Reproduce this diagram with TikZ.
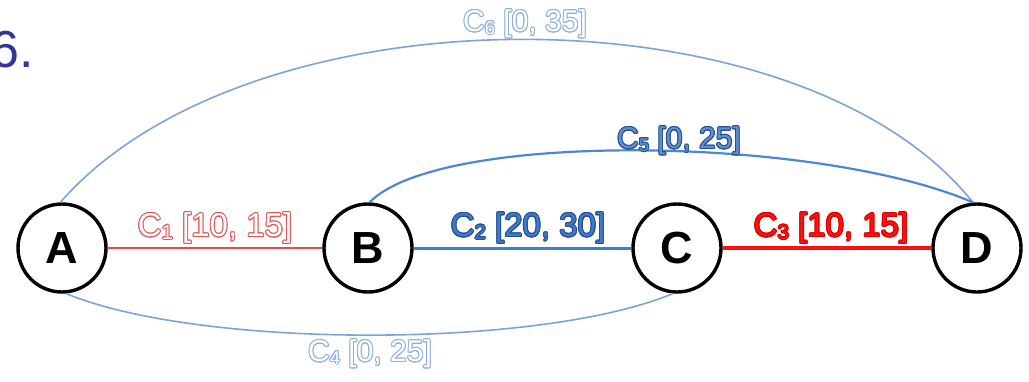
\documentclass[tikz,border=0pt]{standalone}
\usepackage{fontspec}
\setmainfont{Liberation Sans}
\usetikzlibrary{calc}

\definecolor{titleblue}{HTML}{333399}
\definecolor{redline}{HTML}{E84A4A}
\definecolor{redstrong}{HTML}{FF1010}
\definecolor{blueline}{HTML}{3B7DDD}
\definecolor{arcblue}{HTML}{7EA3DA}
\definecolor{arcmid}{HTML}{4F85D6}
\definecolor{paleoutline}{HTML}{8FB0E0}
\definecolor{darkblue}{HTML}{24508F}
\definecolor{fillblue}{HTML}{3F78CC}
\definecolor{softblue}{HTML}{5D8FD8}
\definecolor{pinkline}{HTML}{E25555}

% smaller, slightly lowered index digit
\newcommand\idx[1]{\raisebox{-0.08em}{\scalebox{0.62}{#1}}}

% text with a coloured rim: copies shifted round a circle, then the fill on top
\newcommand\rimlabel[6]{% name, position, font size, rim colour, fill colour, text
  \foreach \a in {0,30,...,330}{
    \node[lbl, text=#4, shift={(\a:0.95pt)}] at #2 {\fontsize{#3}{#3}\selectfont #6};
  }
  \node[lbl, text=#5] (#1) at #2 {\fontsize{#3}{#3}\selectfont #6};
}

\tikzset{
  lbl/.style={inner sep=0pt, anchor=center},
  vertex/.style={circle, draw=black, line width=3.4pt, minimum size=88pt, inner sep=0pt,
    font=\fontsize{45}{45}\selectfont\bfseries},
  thinred/.style={draw=redline, line width=2pt},
  midblue/.style={draw=blueline, line width=3pt},
  thickred/.style={draw=redstrong, line width=3.6pt},
  arc/.style={draw=arcblue, line width=1.6pt},
  arcstrong/.style={draw=arcmid, line width=2.2pt},
}

\begin{document}
\begin{tikzpicture}[x=1pt, y=-1pt]
  \clip (0,0) rectangle (1029,381);
  \fill[white] (0,0) rectangle (1029,381);

  % slide number
  \node[anchor=base west, inner sep=0pt, text=titleblue,
        font=\fontsize{52}{52}\selectfont] (num) at (-10,67) {6.};

  % vertices
  \node[vertex] (A) at (62,248) {A};
  \node[vertex] (B) at (368,248) {B};
  \node[vertex] (C) at (677,248) {C};
  \node[vertex] (D) at (977,248) {D};

  % straight constraints
  \draw[thinred] (A) -- (B);
  \draw[midblue] (B) -- (C);
  \draw[thickred] (C) -- (D);

  % curved constraints
  \draw[arc] (A.92) .. controls (250,-15) and (800,-15) .. (D.95);
  \draw[arcstrong] (B.88) .. controls (440,130) and (820,136) .. (D.95);
  \draw[arc] (A.-85) .. controls (200,349) and (540,349) .. (C.-95);

  % interval labels
  \rimlabel{l1}{(215,228)}{33}{pinkline}{white}{C\idx{1} [10, 15]}
  \rimlabel{l2}{(528,228)}{33}{darkblue}{fillblue}{C\idx{2} [20, 30]}
  \rimlabel{l3}{(831,228)}{33}{red!85!black}{redstrong}{C\idx{3} [10, 15]}
  \rimlabel{l5}{(679,141)}{30}{darkblue}{softblue}{C\idx{5} [0, 25]}
  \rimlabel{l6}{(525,24)}{30}{paleoutline}{white}{C\idx{6} [0, 35]}
  \rimlabel{l4}{(370,354)}{30}{paleoutline}{white}{C\idx{4} [0, 25]}
\end{tikzpicture}
\end{document}
